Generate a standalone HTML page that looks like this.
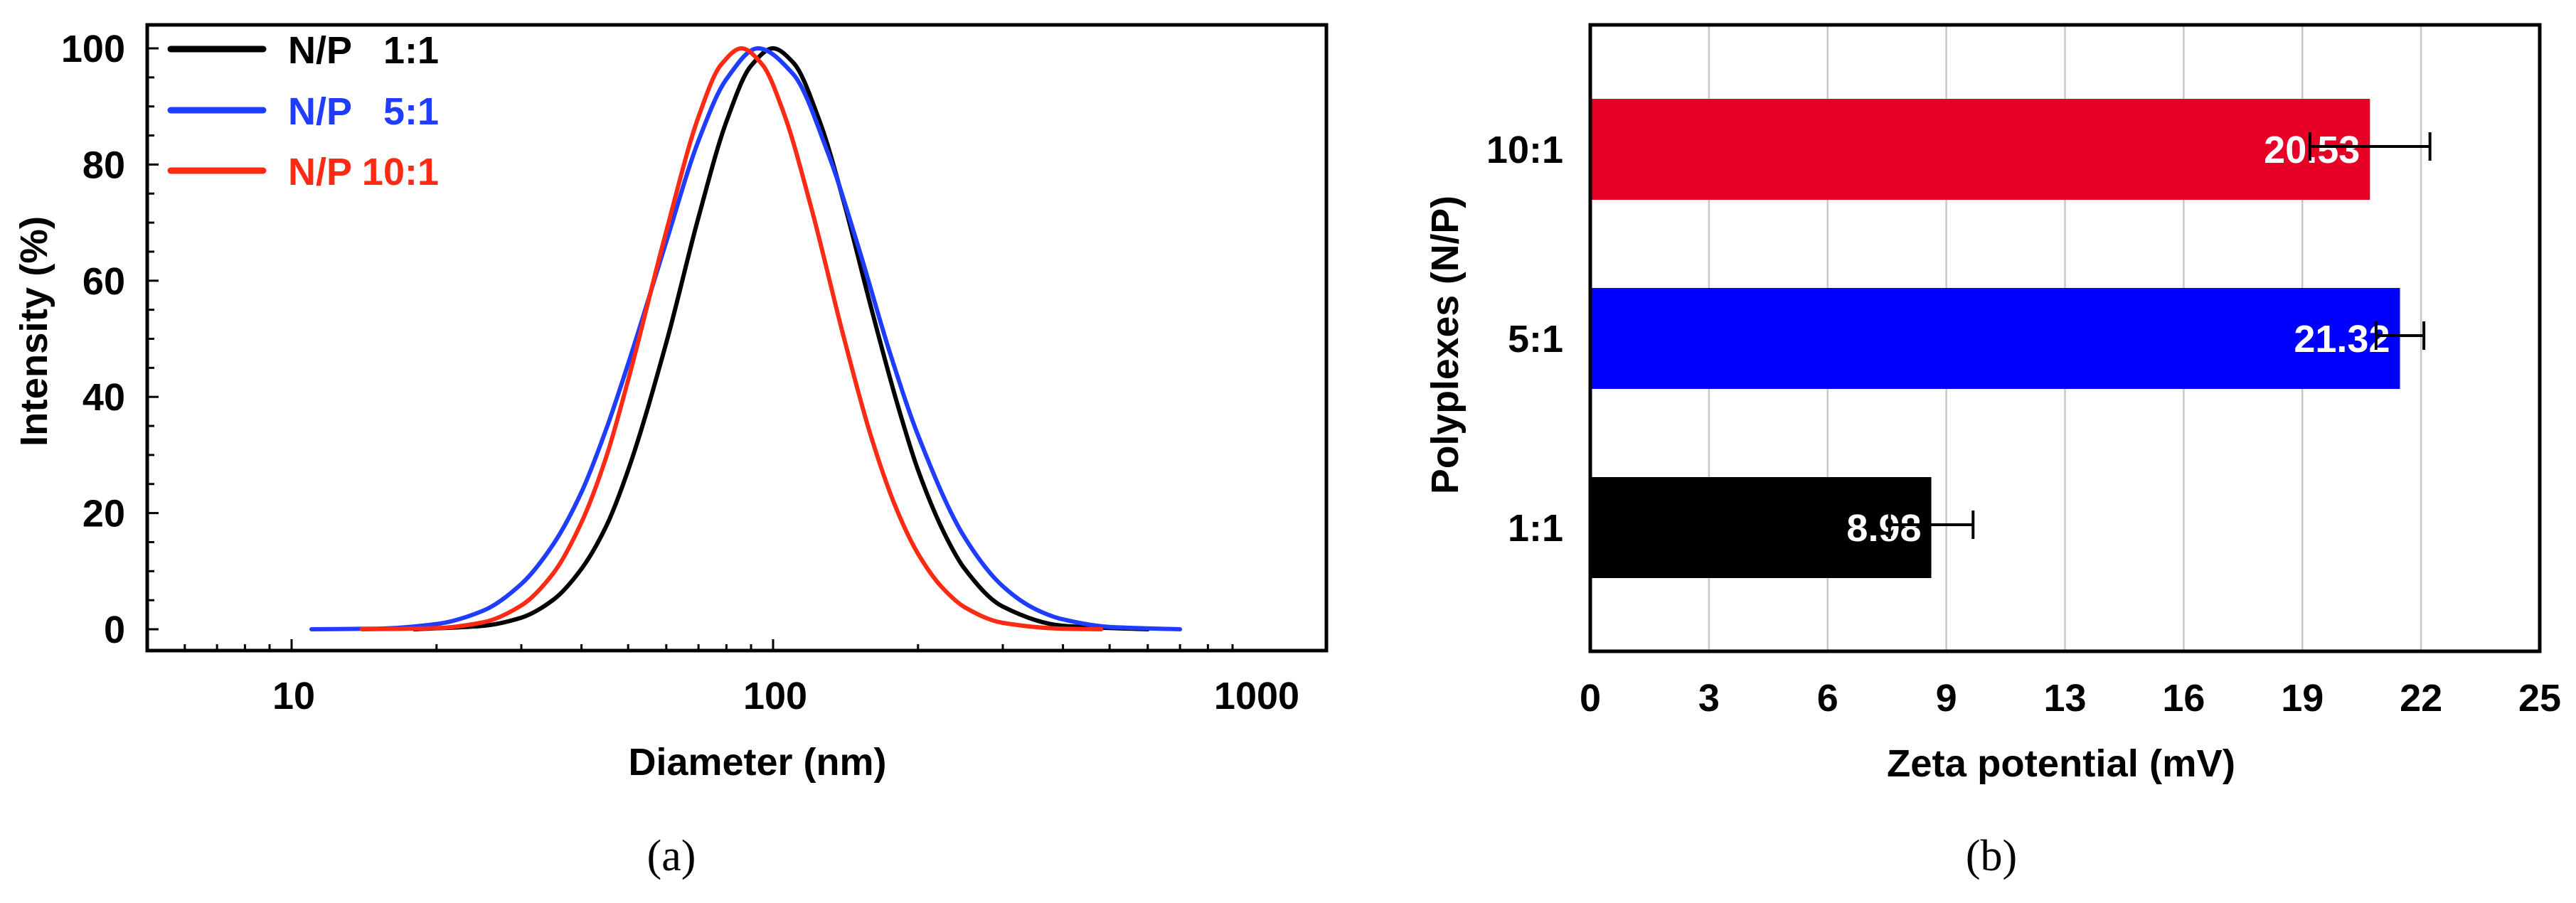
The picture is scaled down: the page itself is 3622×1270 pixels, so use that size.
<!DOCTYPE html>
<html><head><meta charset="utf-8"><style>
html,body{margin:0;padding:0;background:#fff;}
svg{display:block;font-family:"Liberation Sans",Arial,sans-serif;}
</style></head><body>
<svg id="fig" width="3622" height="1270" viewBox="0 0 3622 1270" xmlns="http://www.w3.org/2000/svg">
<g id="panelA"></g>
<g id="panelB"></g>
</svg>
<script>
// ---- Panel (a) data ----
const blackD = [18,25,30,35,40,45,50,60,70,80,90,100,110,125,140,160,180,200,230,250,300,400,600];
const blackI = [0,0.6,2.0,5.1,10.4,17.7,27.4,49.3,70.9,87.4,97.0,100,97.6,87.4,73.8,55.2,39.6,27.4,15.5,10.4,3.9,0.6,0];
const blueD = [11,15,20,25,30,35,40,45,50,60,70,80,93,110,130,150,175,200,250,300,350,400,500,700];
const blueI = [0,0.1,0.9,3.2,7.8,14.7,23.6,34.4,45.7,66.7,84.1,94.7,100,95.6,82.0,66.1,47.5,33.4,15.8,7.4,3.5,1.7,0.4,0];
const redD = [14,20,25,30,35,40,45,50,60,70,78,86,95,105,120,140,160,180,200,225,250,300,400,480];
const redI = [0,0.2,1.2,4.1,9.7,18.4,29.6,42.9,68.5,88.2,97.2,100,97.2,89.1,72.6,50.5,33.0,20.9,13.0,7.1,3.8,1.1,0.1,0];
const yTicksA = [0,20,40,60,80,100];
const xTicksA = [10,100,1000];
const legendLabels = ["1:1","5:1","10:1"];

// ---- Panel (b) data ----
const categories = ["1:1","5:1","10:1"];
const zetaValues = [8.98,21.32,20.53];
const zetaErrors = [1.1,0.63,1.58];
const zetaLabels = ["8.98","21.32","20.53"];
const xTickLabelsB = ["0","3","6","9","13","16","19","22","25"];

const NS="http://www.w3.org/2000/svg";
function mk(parent,tag,attrs,text){const e=document.createElementNS(NS,tag);for(const k in attrs)e.setAttribute(k,attrs[k]);if(text!==undefined)e.textContent=text;parent.appendChild(e);return e;}

// ===== Panel A =====
const A=document.getElementById('panelA');
const aL=207,aR=1865,aT=35,aB=915;
const xA=d=>410+677*Math.log10(d/10);
const yA=v=>885-(885-68)*v/100;
let el=mk(A,'rect',{x:aL,y:aT,width:aR-aL,height:aB-aT,fill:'none',stroke:'#000','stroke-width':5});


for(let v=0;v<=100;v+=5){
  const major=v%20===0;
  el=mk(A,'line',{x1:aL,x2:aL+(major?16:10),y1:yA(v),y2:yA(v),stroke:'#000','stroke-width':3});
  
  
}
yTicksA.forEach(v=>{
  el=mk(A,'text',{x:176,y:yA(v)+19,'text-anchor':'end','font-size':54,'font-weight':'bold'},String(v));
  
  
});
for(const base of [1,10,100]){
  for(let m=1;m<=9;m++){
    const d=base*m; if(d<5.1||d>1400)continue;
    const major=(m===1);
    const x=xA(d);
    el=mk(A,'line',{x1:x,x2:x,y1:aB,y2:aB-(major?16:9),stroke:'#000','stroke-width':3});
    
    
  }
}
xTicksA.forEach(d=>{
  el=mk(A,'text',{x:xA(d)+3,y:997,'text-anchor':'middle','font-size':54,'font-weight':'bold'},String(d));
  
  
});
el=mk(A,'text',{x:1065,y:1090,'text-anchor':'middle','font-size':54,'font-weight':'bold',textLength:363,lengthAdjust:'spacingAndGlyphs'},'Diameter (nm)');


el=mk(A,'text',{x:0,y:0,'text-anchor':'middle','font-size':54,'font-weight':'bold',textLength:324,lengthAdjust:'spacingAndGlyphs',transform:'translate(66,466) rotate(-90)'},'Intensity (%)');


el=mk(A,'text',{x:944,y:1224,'text-anchor':'middle','font-size':62,'font-family':'Liberation Serif, serif'},'(a)');



// monotone cubic (Fritsch-Carlson) path
function monoPath(pts){
  const n=pts.length, dx=[], s=[], m=[];
  for(let i=0;i<n-1;i++){dx[i]=pts[i+1][0]-pts[i][0];s[i]=(pts[i+1][1]-pts[i][1])/dx[i];}
  m[0]=s[0];m[n-1]=s[n-2];
  for(let i=1;i<n-1;i++){
    if(s[i-1]*s[i]<=0)m[i]=0;
    else{const w1=2*dx[i]+dx[i-1],w2=dx[i]+2*dx[i-1];m[i]=(w1+w2)/(w1/s[i-1]+w2/s[i]);}
  }
  let d=`M${pts[0][0].toFixed(1)},${pts[0][1].toFixed(1)}`;
  for(let i=0;i<n-1;i++){
    const h=dx[i]/3;
    d+=` C${(pts[i][0]+h).toFixed(1)},${(pts[i][1]+m[i]*h).toFixed(1)} ${(pts[i+1][0]-h).toFixed(1)},${(pts[i+1][1]-m[i+1]*h).toFixed(1)} ${pts[i+1][0].toFixed(1)},${pts[i+1][1].toFixed(1)}`;
  }
  return d;
}
const series=[[blackD,blackI,'#000','curve-np-1-1'],[blueD,blueI,'#1f3dff','curve-np-5-1'],[redD,redI,'#ff2a14','curve-np-10-1']];
series.forEach(s=>{
  const pts=s[0].map((d,i)=>[xA(d),yA(s[1][i])]);
  el=mk(A,'path',{d:monoPath(pts),fill:'none',stroke:s[2],'stroke-width':6,'stroke-linecap':'round','stroke-linejoin':'round'});
  
  
});
const legY=[69,155,240];
series.forEach((s,i)=>{
  el=mk(A,'line',{x1:240,x2:370,y1:legY[i],y2:legY[i],stroke:s[2],'stroke-width':9,'stroke-linecap':'round'});
  
  
  el=mk(A,'text',{x:405,y:legY[i]+20,'font-size':54,'font-weight':'bold',fill:s[2]},'N/P');
  
  
  el=mk(A,'text',{x:617,y:legY[i]+20,'text-anchor':'end','font-size':54,'font-weight':'bold',fill:s[2]},legendLabels[i]);
  
  
});

// ===== Panel B =====
const B=document.getElementById('panelB');
const bL=2236,bR=3571,bT=35,bB=916;
const xMax=25;
const xB=v=>bL+(bR-bL)*v/xMax;
const yCat=i=>476+(1-i)*266;
xTickLabelsB.forEach((t,i)=>{
  const x=bL+(bR-bL)*i/(xTickLabelsB.length-1);
  if(i>0&&i<xTickLabelsB.length-1){
    el=mk(B,'line',{x1:x,x2:x,y1:bT,y2:bB,stroke:'#c8c8c8','stroke-width':2.5});
    
    
  }
  el=mk(B,'text',{x:x,y:1000,'text-anchor':'middle','font-size':54,'font-weight':'bold'},t);
  
  
});
const barColors=['#000000','#0000ff','#e60026'];
categories.forEach((c,i)=>{
  const cy=yCat(i);
  el=mk(B,'rect',{x:bL,y:cy-71,width:xB(zetaValues[i])-bL,height:142,fill:barColors[i]});
  
  
  el=mk(B,'text',{x:xB(zetaValues[i])-14,y:cy+19,'text-anchor':'end','font-size':54,'font-weight':'bold',fill:'#fff'},zetaLabels[i]);
  
  
  const ey=cy-4,x1=xB(zetaValues[i]-zetaErrors[i]),x2=xB(zetaValues[i]+zetaErrors[i]);
  el=mk(B,'path',{d:`M${x1},${ey}H${x2}M${x1},${ey-20}V${ey+20}M${x2},${ey-20}V${ey+20}`,stroke:'#000','stroke-width':4,fill:'none'});
  
  
  el=mk(B,'text',{x:2198,y:cy+19,'text-anchor':'end','font-size':54,'font-weight':'bold'},c);
  
  
});
el=mk(B,'rect',{x:bL,y:bT,width:bR-bL,height:bB-bT,fill:'none',stroke:'#000','stroke-width':5});


el=mk(B,'text',{x:2898,y:1092,'text-anchor':'middle','font-size':54,'font-weight':'bold',textLength:490,lengthAdjust:'spacingAndGlyphs'},'Zeta potential (mV)');


el=mk(B,'text',{x:0,y:0,'text-anchor':'middle','font-size':54,'font-weight':'bold',textLength:420,lengthAdjust:'spacingAndGlyphs',transform:'translate(2050,485) rotate(-90)'},'Polyplexes (N/P)');


el=mk(B,'text',{x:2800,y:1224,'text-anchor':'middle','font-size':62,'font-family':'Liberation Serif, serif'},'(b)');


</script>
</body></html>
